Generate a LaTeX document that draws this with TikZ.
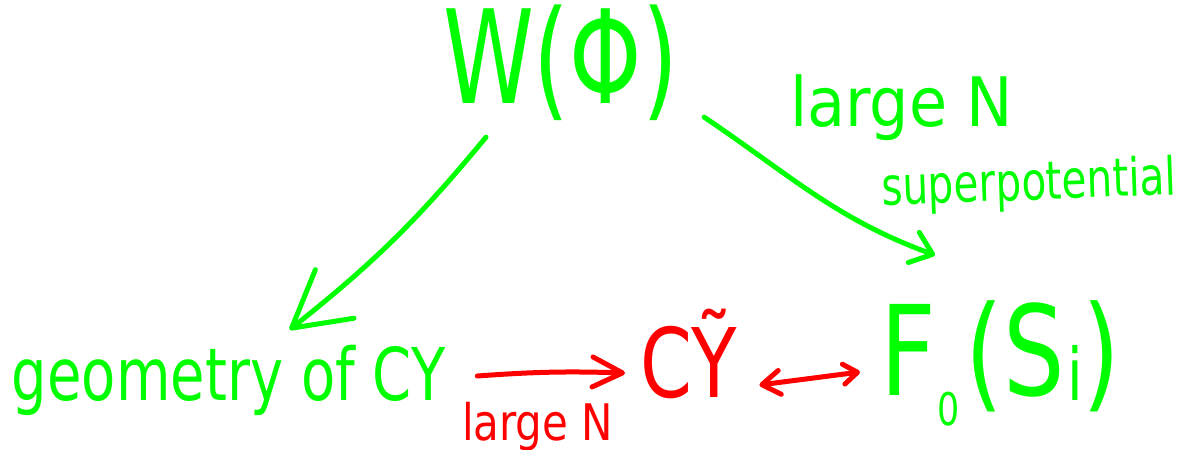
\documentclass[tikz,border=0pt]{standalone}
\usepackage{fontspec}
\setmainfont{DejaVu Sans}
\usepackage{graphicx}
\usetikzlibrary{arrows.meta,calc}

\definecolor{penGreen}{RGB}{0,255,0}
\definecolor{penRed}{RGB}{255,0,0}

% stretched hand-lettering: size, x-scale, y-scale, text
\newcommand{\penText}[4]{\fontsize{#1}{#1}\selectfont\scalebox{#2}[#3]{#4}}

\tikzset{
  lettering/.style={inner sep=0pt, outer sep=0pt, anchor=base west},
  greenpen/.style={draw=penGreen, line width=5pt, line cap=round, line join=round},
  redpen/.style={draw=penRed, line width=5pt, line cap=round, line join=round},
}

\begin{document}
\begin{tikzpicture}[x=1pt,y=1pt]
\useasboundingbox (0,0) rectangle (1192,-450);

% labels
\node[lettering, text=penGreen] (W) at (443,-103) {\penText{100}{0.92}{1.3}{W(Φ)}};
\node[lettering, text=penGreen] (bigN) at (790,-126) {\penText{62}{1}{1.1}{large N}};
\node[lettering, text=penGreen, rotate=2] (sup) at (882,-205) {\penText{40.6}{1}{1.3}{superpotential}};
\node[lettering, text=penGreen] (geo) at (12,-400) {\penText{56}{1}{1.3}{geometry of CY}};
\node[lettering, text=penRed] (cy) at (640,-397) {\penText{80}{0.93}{1.2}{CỸ}};
\node[lettering, text=penGreen] (F) at (880,-395) {\penText{100}{0.97}{1.25}{F\kern0.02em\raisebox{-0.24em}{\fontsize{36}{36}\selectfont 0}\kern0.06em(S\kern0.02em\raisebox{-0.04em}{\fontsize{58}{58}\selectfont i})}};
\node[lettering, text=penRed] (redN) at (462,-440) {\penText{42}{1}{1.2}{large N}};

% arrows
\draw[greenpen, -{Straight Barb[length=55pt,width=62pt,round]}]
  ($(W.south west)+(43,-17)$) to[bend left=6] ($(geo.north)+(61,15)$);
\draw[greenpen, -{Straight Barb[length=20pt,width=32pt,round]}]
  ($(W.south east)+(26,3)$) to[out=-34,in=160] ($(F.north west)+(55,45)$);
\draw[redpen, -{Straight Barb[length=30pt,width=30pt,round]}]
  ($(geo.base east)+(32,24)$) to[bend left=3] ($(cy.base west)+(-15,24)$);
\draw[redpen, {Straight Barb[length=18pt,width=24pt,round]}-{Straight Barb[length=14pt,width=20pt,round]}]
  ($(cy.base east)+(22,12)$) -- ($(F.base west)+(-20,23)$);
\end{tikzpicture}
\end{document}
